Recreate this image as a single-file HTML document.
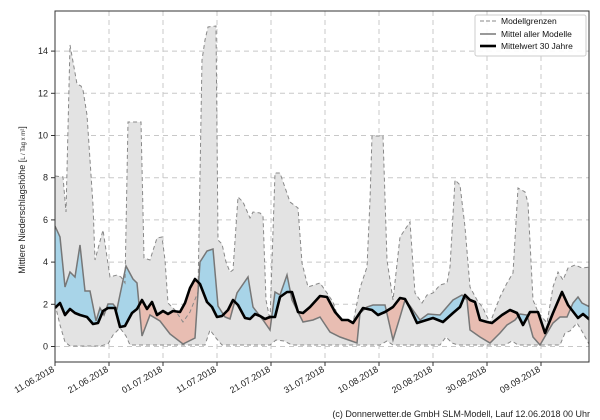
<!DOCTYPE html>
<html><head><meta charset="utf-8"><style>
html,body{margin:0;padding:0;background:#fff;}
svg{display:block;font-family:"Liberation Sans","DejaVu Sans",sans-serif;}
</style></head><body>
<svg width="600" height="420" viewBox="0 0 600 420" xmlns="http://www.w3.org/2000/svg">
<defs>
<clipPath id="plot"><rect x="55" y="11" width="534" height="351"/></clipPath>
<clipPath id="above"><polygon id="cpa" points=""/></clipPath>
<clipPath id="below"><polygon id="cpb" points=""/></clipPath>
</defs>
<rect width="600" height="420" fill="#fff"/>
<g id="grid" stroke="#c8c8c8" stroke-width="1" stroke-dasharray="5,4"></g>
<g clip-path="url(#plot)">
<polygon id="env" fill="#e3e3e3" points=""/>
<polygon id="fillb" fill="#a8d4e8" clip-path="url(#above)" points=""/>
<polygon id="fillr" fill="#e8bdb2" clip-path="url(#below)" points=""/>
<polyline id="up" fill="none" stroke="#888" stroke-width="1" stroke-dasharray="4,3" points=""/>
<polyline id="lo" fill="none" stroke="#888" stroke-width="1" stroke-dasharray="4,3" points=""/>
<polyline id="mm" fill="none" stroke="#777" stroke-width="1.5" points=""/>
<polyline id="bk" fill="none" stroke="#000" stroke-width="2.6" stroke-linejoin="round" points=""/>
</g>
<rect x="55" y="11" width="534" height="351" fill="none" stroke="#333" stroke-width="1"/>
<g id="ticks" font-size="9" fill="#222"></g>
<text transform="translate(25,200) rotate(-90)" font-size="9" text-anchor="middle" fill="#222">Mittlere Niederschlagshöhe [<tspan font-size="6">L / Tag x m²</tspan>]</text>
<rect x="475" y="15" width="111" height="41" fill="#fff" fill-opacity="0.9" stroke="#ccc" rx="2"/>
<line x1="480" y1="21" x2="496" y2="21" stroke="#888" stroke-dasharray="4,2"/>
<line x1="480" y1="34" x2="496" y2="34" stroke="#777" stroke-width="1.5"/>
<line x1="480" y1="46" x2="496" y2="46" stroke="#000" stroke-width="2.6"/>
<text x="501" y="24" font-size="8.5" fill="#111">Modellgrenzen</text>
<text x="501" y="37" font-size="8.5" fill="#111">Mittel aller Modelle</text>
<text x="501" y="49" font-size="8.5" fill="#111">Mittelwert 30 Jahre</text>
<text x="590" y="417" font-size="9" text-anchor="end" fill="#222">(c) Donnerwetter.de GmbH SLM-Modell, Lauf 12.06.2018 00 Uhr</text>
</svg>
<script>
var up=[[55,176],[63,177],[66,212],[70,45],[77,84],[81,86],[83,90],[87,115],[93,205],[95,260],[99,245],[103,230],[107,257],[110,277],[117,275],[121,277],[125,283],[128,122],[141,122],[144,258],[150,260],[157,238],[162,237],[165,260],[168,303],[175,310],[183,322],[190,312],[198,292],[202,60],[205,40],[208,27],[216,26],[218,240],[222,244],[226,262],[230,272],[233,270],[238,197],[243,202],[250,218],[253,212],[260,213],[263,216],[266,300],[270,320],[275,173],[280,173],[290,202],[298,208],[302,263],[308,287],[320,283],[327,293],[333,302],[338,317],[353,323],[360,288],[367,267],[370,200],[372,136],[383,136],[387,260],[393,300],[400,237],[410,222],[415,293],[422,303],[427,295],[433,293],[440,285],[447,283],[450,267],[455,180],[460,185],[465,227],[470,287],[477,300],[483,308],[490,323],[500,297],[507,283],[513,273],[518,188],[525,192],[528,203],[533,300],[538,312],[547,323],[553,287],[558,272],[563,280],[568,268],[575,265],[582,268],[590,267]];
var lo=[[55,304],[60,325],[65,342],[70,346],[100,346],[108,344],[113,335],[120,328],[126,336],[130,345],[205,345],[210,330],[216,338],[222,345],[270,345],[276,340],[284,341],[292,345],[380,345],[387,341],[393,345],[440,345],[446,337],[452,343],[458,345],[505,345],[512,341],[518,345],[560,345],[565,333],[570,331],[577,323],[583,333],[590,346]];
var mm=[[55,226],[60,237],[65,287],[70,272],[75,277],[80,245],[85,291],[90,291],[96,321],[100,308],[104,315],[108,304],[113,304],[117,309],[126,266],[133,279],[137,283],[142,336],[150,315],[160,321],[170,334],[183,344],[195,338],[200,262],[207,251],[213,249],[218,306],[225,317],[230,319],[237,293],[248,277],[253,307],[263,320],[270,330],[275,292],[280,295],[287,275],[292,300],[303,322],[313,320],[320,317],[330,332],[340,337],[357,343],[360,313],[367,307],[373,305],[385,305],[393,340],[400,317],[405,300],[410,306],[420,320],[428,314],[440,315],[453,300],[462,295],[467,300],[470,330],[480,337],[490,343],[500,333],[507,325],[515,320],[520,314],[527,315],[533,337],[540,345],[547,333],[553,323],[560,317],[567,317],[573,303],[578,297],[582,303],[590,307]];
var bk=[[55,308],[60,303],[65,315],[70,309],[75,313],[80,315],[87,317],[93,324],[98,323],[103,311],[108,308],[115,308],[120,327],[125,326],[132,313],[137,309],[142,300],[147,309],[152,302],[157,315],[163,311],[168,314],[173,311],[180,312],[185,303],[190,288],[195,279],[200,284],[207,302],[212,307],[217,317],[222,316],[228,310],[233,300],[238,305],[245,318],[250,319],[255,314],[260,316],[265,319],[270,317],[275,317],[280,297],[287,292],[292,292],[298,312],[303,313],[310,307],[320,296],[327,297],[335,312],[342,320],[348,320],[353,323],[363,308],[372,310],[378,315],[385,312],[393,307],[400,298],[405,299],[410,308],[417,323],[433,318],[443,322],[453,313],[460,307],[465,295],[470,300],[475,302],[480,320],[487,322],[492,323],[502,315],[510,310],[517,313],[523,325],[530,312],[538,312],[545,333],[553,313],[562,292],[568,305],[578,318],[583,314],[590,320]];
function s(a){return a.map(p=>p.join(',')).join(' ');}
var rl=function(a){return a.slice().reverse();};
document.getElementById('env').setAttribute('points',s(up.concat(rl(lo))));
document.getElementById('up').setAttribute('points',s(up));
document.getElementById('lo').setAttribute('points',s(lo));
document.getElementById('mm').setAttribute('points',s(mm));
document.getElementById('bk').setAttribute('points',s(bk));
var band=s(mm.concat(rl(bk)));
document.getElementById('fillb').setAttribute('points',band);
document.getElementById('fillr').setAttribute('points',band);
document.getElementById('cpa').setAttribute('points',s([[55,0]].concat(bk,[[590,0]])));
document.getElementById('cpb').setAttribute('points',s([[55,420]].concat(bk,[[590,420]])));
var ns='http://www.w3.org/2000/svg',g=document.getElementById('grid'),t=document.getElementById('ticks');
function el(p,tag,at,txt){var e=document.createElementNS(ns,tag);for(var k in at)e.setAttribute(k,at[k]);if(txt)e.textContent=txt;p.appendChild(e);return e;}
for(var v=0;v<=14;v+=2){var y=346.5-v*21.1;
 el(g,'line',{x1:55,x2:589,y1:y,y2:y});
 el(t,'line',{x1:51,x2:55,y1:y,y2:y,stroke:'#333'});
 el(t,'text',{x:48,y:y+3,'text-anchor':'end'},String(v));}
var labs=['11.06.2018','21.06.2018','01.07.2018','11.07.2018','21.07.2018','31.07.2018','10.08.2018','20.08.2018','30.08.2018','09.09.2018'];
for(var i=0;i<10;i++){var x=55+54*i;
 if(i>0)el(g,'line',{x1:x,x2:x,y1:11,y2:362});
 el(t,'line',{x1:x,x2:x,y1:362,y2:366,stroke:'#333'});
 el(t,'text',{x:x,y:371,'text-anchor':'end',transform:'rotate(-30 '+x+' 371)'},labs[i]);}
</script>
</body></html>
